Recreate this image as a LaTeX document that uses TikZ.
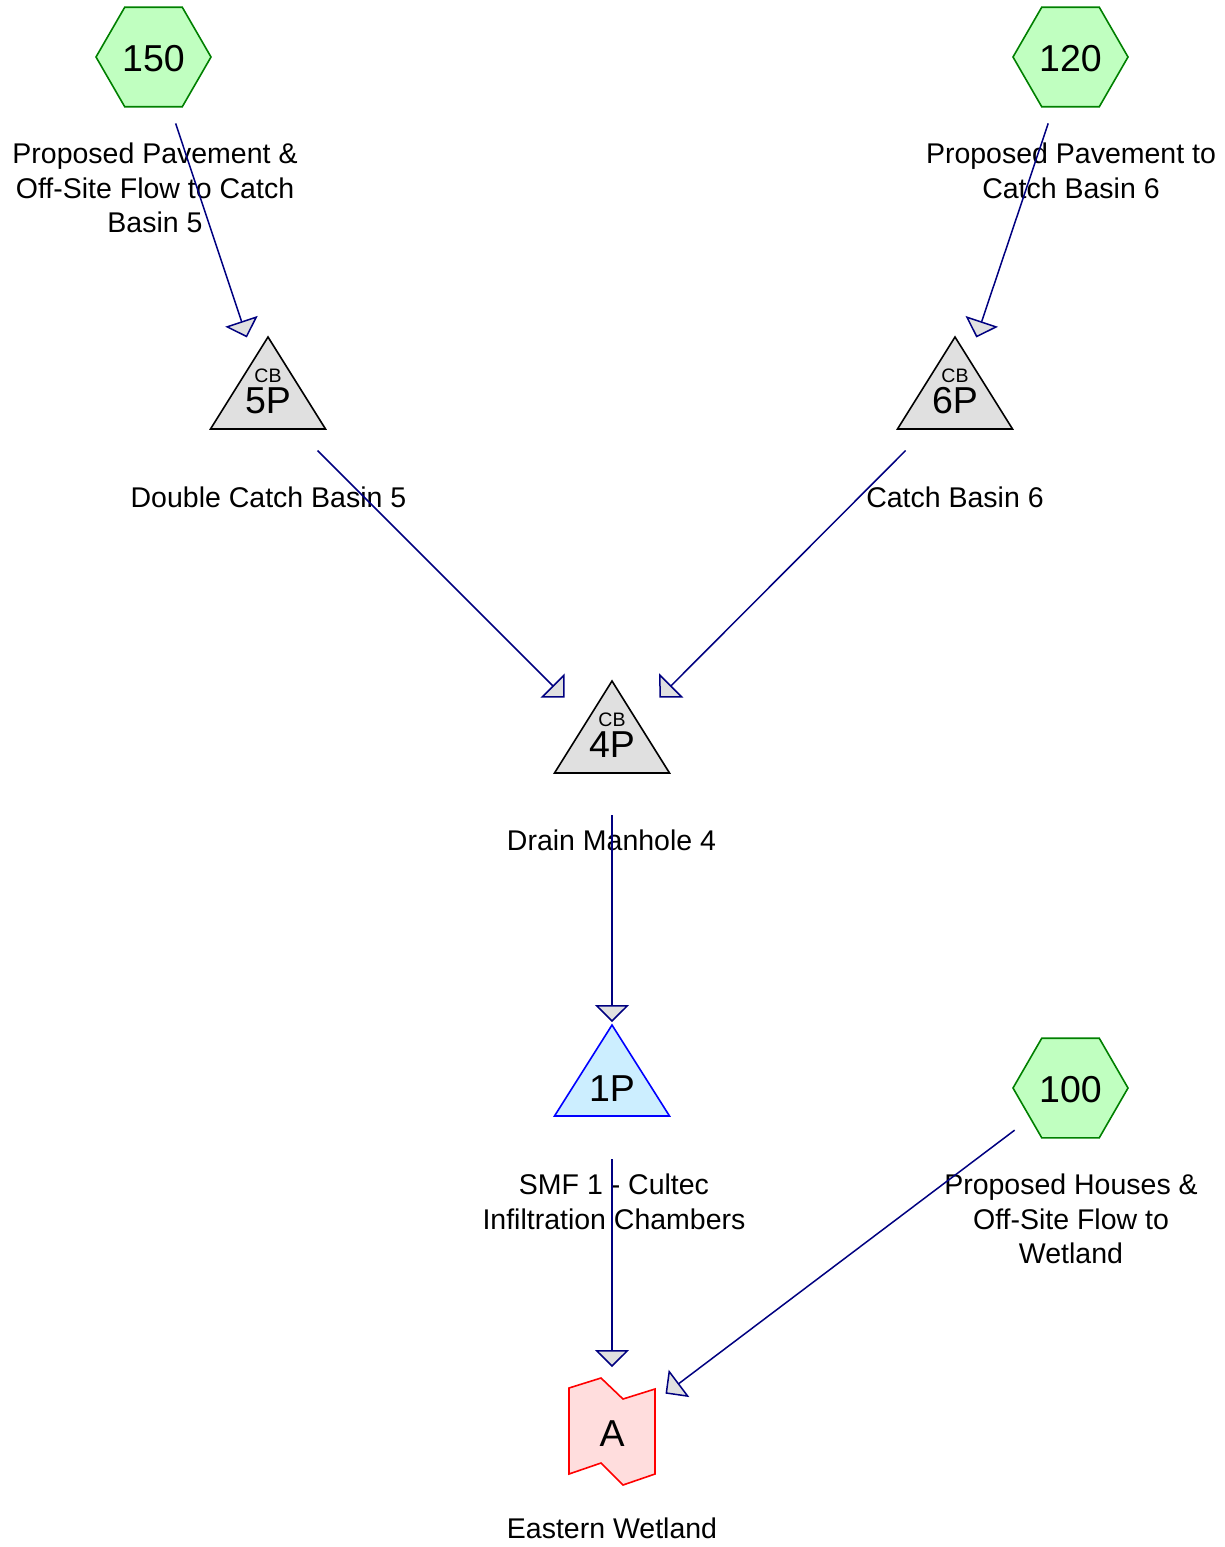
\documentclass[tikz,border=0pt]{standalone}
\usepackage{fontspec}
\setmainfont{Liberation Sans}
\usetikzlibrary{arrows.meta,shapes.geometric}
\definecolor{hexfill}{HTML}{C0FFC0}
\definecolor{hexline}{HTML}{008000}
\definecolor{trifill}{HTML}{E0E0E0}
\definecolor{pondfill}{HTML}{CCEEFF}
\definecolor{pondline}{HTML}{0000FF}
\definecolor{reachfill}{HTML}{FFDDDD}
\definecolor{reachline}{HTML}{FF0000}
\definecolor{flow}{HTML}{000080}
\definecolor{headfill}{HTML}{E0E0E0}
\begin{document}
\begin{tikzpicture}[x=1pt,y=-1pt,
  hexshape/.style={regular polygon, regular polygon sides=6, minimum size=115pt, inner sep=0pt, draw=hexline, fill=hexfill, line width=1.6pt},
  trishape/.style={draw=black, fill=trifill, line width=1.6pt, line join=miter},
  pondshape/.style={draw=pondline, fill=pondfill, line width=1.6pt},
  reachshape/.style={draw=reachline, fill=reachfill, line width=1.6pt},
  bigid/.style={inner sep=0pt, font=\fontsize{37.5}{37.5}\selectfont},
  tagtext/.style={inner sep=0pt, font=\fontsize{19.5}{19.5}\selectfont},
  lbl/.style={inner sep=0pt, align=center, font=\fontsize{28.5}{34.5}\selectfont},
  flowline/.style={draw=flow, line width=1.5pt, shorten <=70pt, shorten >=67pt,
    -{Triangle[length=17pt,width=34pt,fill=headfill]}}
]
\useasboundingbox (0,0) rectangle (1225,1547);

% subcatchments
\node[hexshape] (h150) at (153.5,57) {};
\node[hexshape] (h120) at (1070.5,57) {};
\node[hexshape] (h100) at (1070.5,1088) {};
\node[bigid] (s150) at (153.5,59) {150};
\node[bigid] (s120) at (1070.5,59) {120};
\node[bigid] (s100) at (1070.5,1090) {100};

% catch basin triangles
\draw[trishape] (268,337) -- (325.5,429) -- (210.5,429) -- cycle;
\draw[trishape] (955,337) -- (1012.5,429) -- (897.5,429) -- cycle;
\draw[trishape] (612,681) -- (669.5,773) -- (554.5,773) -- cycle;
\node[tagtext] (cb5tag) at (268,376) {CB};
\node[bigid] (cb5) at (268,401) {5P};
\node[tagtext] (cb6tag) at (955,376) {CB};
\node[bigid] (cb6) at (955,401) {6P};
\node[tagtext] (cb4tag) at (612,720) {CB};
\node[bigid] (cb4) at (612,745) {4P};

% pond
\draw[pondshape] (612,1025) -- (669.5,1116) -- (554.5,1116) -- cycle;
\node[bigid] (p1) at (612,1089) {1P};

% reach
\draw[reachshape] (569,1388) -- (601,1378) -- (623,1399) -- (655,1389) -- (655,1474) -- (623,1485) -- (601,1463) -- (569,1474) -- cycle;
\node[bigid] (ra) at (612,1434) {A};

% labels
\node[lbl] (l150) at (155,188) {Proposed Pavement \&\\Off-Site Flow to Catch\\Basin 5};
\node[lbl] (l120) at (1071,171) {Proposed Pavement to\\Catch Basin 6};
\node[lbl] (l5) at (268.5,497) {Double Catch Basin 5};
\node[lbl] (l6) at (955,497) {Catch Basin 6};
\node[lbl] (l4) at (611.5,840) {Drain Manhole 4};
\node[lbl] (l1) at (614,1202) {SMF 1 - Cultec\\Infiltration Chambers};
\node[lbl] (l100) at (1071,1219) {Proposed Houses \&\\Off-Site Flow to\\Wetland};
\node[lbl] (la) at (612,1528) {Eastern Wetland};

% connectors (centre to centre)
\draw[flowline] (h150.center) -- (cb5.center);
\draw[flowline] (h120.center) -- (cb6.center);
\draw[flowline] (cb5.center) -- (cb4.center);
\draw[flowline] (cb6.center) -- (cb4.center);
\draw[flowline] (cb4.center) -- (p1.center);
\draw[flowline] (p1.center) -- (ra.center);
\draw[flowline] (h100.center) -- (ra.center);
\end{tikzpicture}
\end{document}
